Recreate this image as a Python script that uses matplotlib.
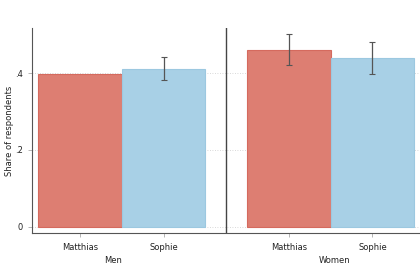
import matplotlib
matplotlib.use("Agg")
import matplotlib.pyplot as plt

names = ["Matthias", "Sophie", "Matthias", "Sophie"]
groups = ["Men", "Women"]
values = [0.397, 0.410, 0.460, 0.439]
err_low = [None, 0.382, 0.421, 0.397]
err_high = [None, 0.441, 0.501, 0.480]
positions = [0, 1, 2.5, 3.5]
colors = ["#DD7E72", "#A8D0E6", "#DD7E72", "#A8D0E6"]
edges = ["#D56A5E", "#9CC8E0", "#D56A5E", "#9CC8E0"]

fig = plt.figure(figsize=(4.2, 2.8), dpi=100)
ax = fig.add_axes([0.076, 0.168, 0.924, 0.732])

ax.bar(positions, values, width=1.0, color=colors, edgecolor=edges, linewidth=0.8, zorder=2)

for x, lo, hi, v in zip(positions, err_low, err_high, values):
    if lo is None:
        continue
    ax.errorbar([x], [v], yerr=[[v - lo], [hi - v]], fmt="none", ecolor="#555555",
                elinewidth=0.9, capsize=2, capthick=0.8, zorder=3)

ax.axvline(1.75, color="#444444", linewidth=1.0, zorder=4)

ax.set_xlim(-0.575, 4.07)
ax.set_ylim(-0.0156, 0.517)
ax.set_yticks([0, 0.2, 0.4])
ax.set_yticklabels(["0", ".2", ".4"])
ax.set_xticks(positions)
ax.set_xticklabels(names)
ax.grid(axis="y", linestyle=(0, (1, 2)), color="#cccccc", linewidth=0.6, zorder=0)

for s in ["top", "right"]:
    ax.spines[s].set_visible(False)
for s in ["left", "bottom"]:
    ax.spines[s].set_color("#555555")
    ax.spines[s].set_linewidth(0.8)

ax.tick_params(axis="both", labelsize=6, colors="#222222", length=3, width=0.5)
ax.tick_params(axis="x", color="#999999", pad=4)
ax.tick_params(axis="y", color="#999999")
ax.set_ylabel("Share of respondents", fontsize=6, color="#222222", labelpad=1)

for gx, g in zip([0.4, 3.05], groups):
    ax.text(gx, -0.11, g, transform=ax.get_xaxis_transform(), ha="center", va="top",
            fontsize=6, color="#222222")

fig.savefig("out.png", dpi=100)
